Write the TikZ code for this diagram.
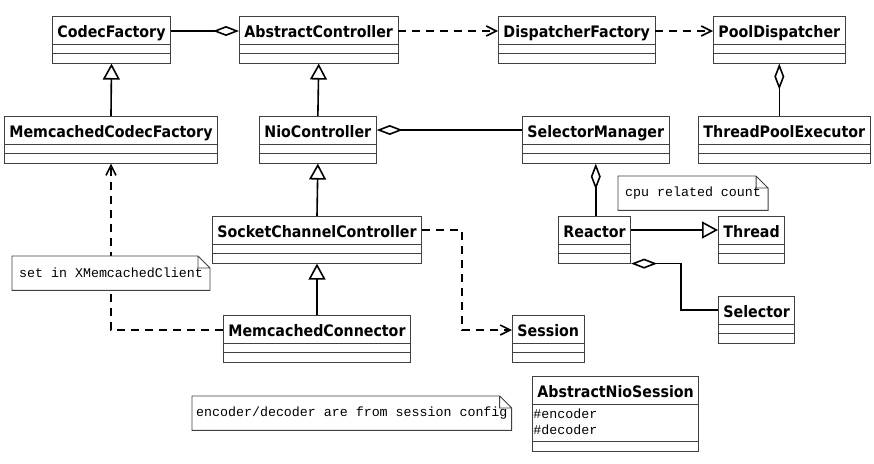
\documentclass[tikz,border=0pt]{standalone}
\usepackage{fontspec}
\setmainfont{DejaVu Sans}
\newfontfamily\clsfam{DejaVu Sans Condensed}
\newfontfamily\notefam{Liberation Mono}
\usetikzlibrary{shapes.multipart,arrows.meta,calc}
\newcommand{\clsfont}{\clsfam\bfseries\fontsize{15.8}{19}\selectfont}
\newcommand{\notefont}{\notefam\mdseries\fontsize{13.3}{16}\selectfont}
\newcommand{\cname}[1]{\rule[-6.5pt]{0pt}{27pt}#1\nodepart{two}\rule{0pt}{8pt}\nodepart{three}\rule{0pt}{9pt}}
\newcommand{\notefold}[1]{\draw[line width=0.9pt,draw=black!75] (#1.north west) -- ([xshift=-12pt]#1.north east)
  -- ([yshift=-12pt]#1.north east) -- (#1.south east) -- (#1.south west) -- cycle
  ([xshift=-12pt]#1.north east) |- ([yshift=-12pt]#1.north east);}

\begin{document}
\begin{tikzpicture}[x=1pt,y=-1pt,
  cls/.style={rectangle split,rectangle split parts=3,rectangle split part align=left,
    draw=black!75,line width=0.9pt,fill=white,anchor=north west,inner xsep=5pt,inner ysep=0pt,
    font=\clsfont},
  memo/.style={fill=white,anchor=north west,minimum height=34pt,inner xsep=7pt,inner ysep=0pt,
    font=\notefont},
  conn/.style={line width=1.6pt},
  gen/.style={conn,-{Triangle[open,length=16pt,width=17pt]}},
  aggr/.style={conn,{Diamond[open,length=26pt,width=10pt]}-},
  dep/.style={conn,dash pattern=on 8pt off 6pt,-{Straight Barb[length=10pt,width=10pt]}}]
\useasboundingbox (0,0) rectangle (874,463);
\node[cls] (codec) at (52,16) {\cname{CodecFactory}};
\node[cls] (actrl) at (239,16) {\cname{AbstractController}};
\node[cls] (dispf) at (498,16) {\cname{DispatcherFactory}};
\node[cls] (pool) at (713,16) {\cname{PoolDispatcher}};
\node[cls] (mcodec) at (4,116) {\cname{MemcachedCodecFactory}};
\node[cls] (nio) at (259,116) {\cname{NioController}};
\node[cls] (selmgr) at (522,116) {\cname{SelectorManager}};
\node[cls] (tpe) at (698,116) {\cname{ThreadPoolExecutor}};
\node[cls] (scc) at (212,216) {\cname{SocketChannelController}};
\node[cls] (reactor) at (558,216) {\cname{Reactor}};
\node[cls] (thread) at (718,216) {\cname{Thread}};
\node[cls] (selector) at (718,296) {\cname{Selector}};
\node[cls] (mconn) at (223,315) {\cname{MemcachedConnector}};
\node[cls] (session) at (512,315) {\cname{Session}};
\node[cls] (anio) at (532,376) {\rule[-6.5pt]{0pt}{27pt}AbstractNioSession\nodepart{two}\rule[-6pt]{0pt}{36pt}\hspace*{-4pt}\notefont
  \begin{tabular}[b]{@{}l@{}}\#encoder\\\#decoder\end{tabular}\nodepart{three}\rule{0pt}{9pt}};
\draw[aggr] ($(actrl.north west)+(0,15)$) -- ($(codec.north east)+(0,15)$);
\draw[dep] ($(actrl.north east)+(0,15)$) -- ($(dispf.north west)+(0,15)$);
\draw[dep] ($(dispf.north east)+(0,15)$) -- ($(pool.north west)+(0,15)$);
\draw[aggr] (pool.south) -- (pool.south |- tpe.north);
\draw[gen] (mcodec.north) -- (codec.south); \draw[gen] (nio.north) -- (actrl.south);
\draw[gen] (scc.north) -- (nio.south); \draw[gen] (mconn.north) -- (scc.south);
\draw[aggr] ($(nio.north east)+(0,14)$) -- ($(selmgr.north west)+(0,14)$);
\draw[aggr] (selmgr.south) -- (selmgr.south |- reactor.north);
\draw[gen] ($(reactor.north east)+(0,14)$) -- ($(thread.north west)+(0,14)$);
\draw[aggr] (reactor.south east) -- ++(50,0) |- ($(selector.north west)+(0,14)$);
\draw[dep] ($(scc.north east)+(0,14)$) -- ++(40,0) |- ($(session.north west)+(0,15)$);
\draw[dep] ($(mconn.north west)+(0,15)$) -| (mcodec.south);
\node[memo,minimum width=149pt] (ncpu) at (618,176) {cpu related count};
\node[memo,minimum width=195pt] (nset) at (12,256) {set in XMemcachedClient};
\node[memo,minimum width=319pt,inner xsep=4pt] (nenc) at (192,396) {encoder/decoder are from session config};
\notefold{ncpu} \notefold{nset} \notefold{nenc}
\end{tikzpicture}
\end{document}
